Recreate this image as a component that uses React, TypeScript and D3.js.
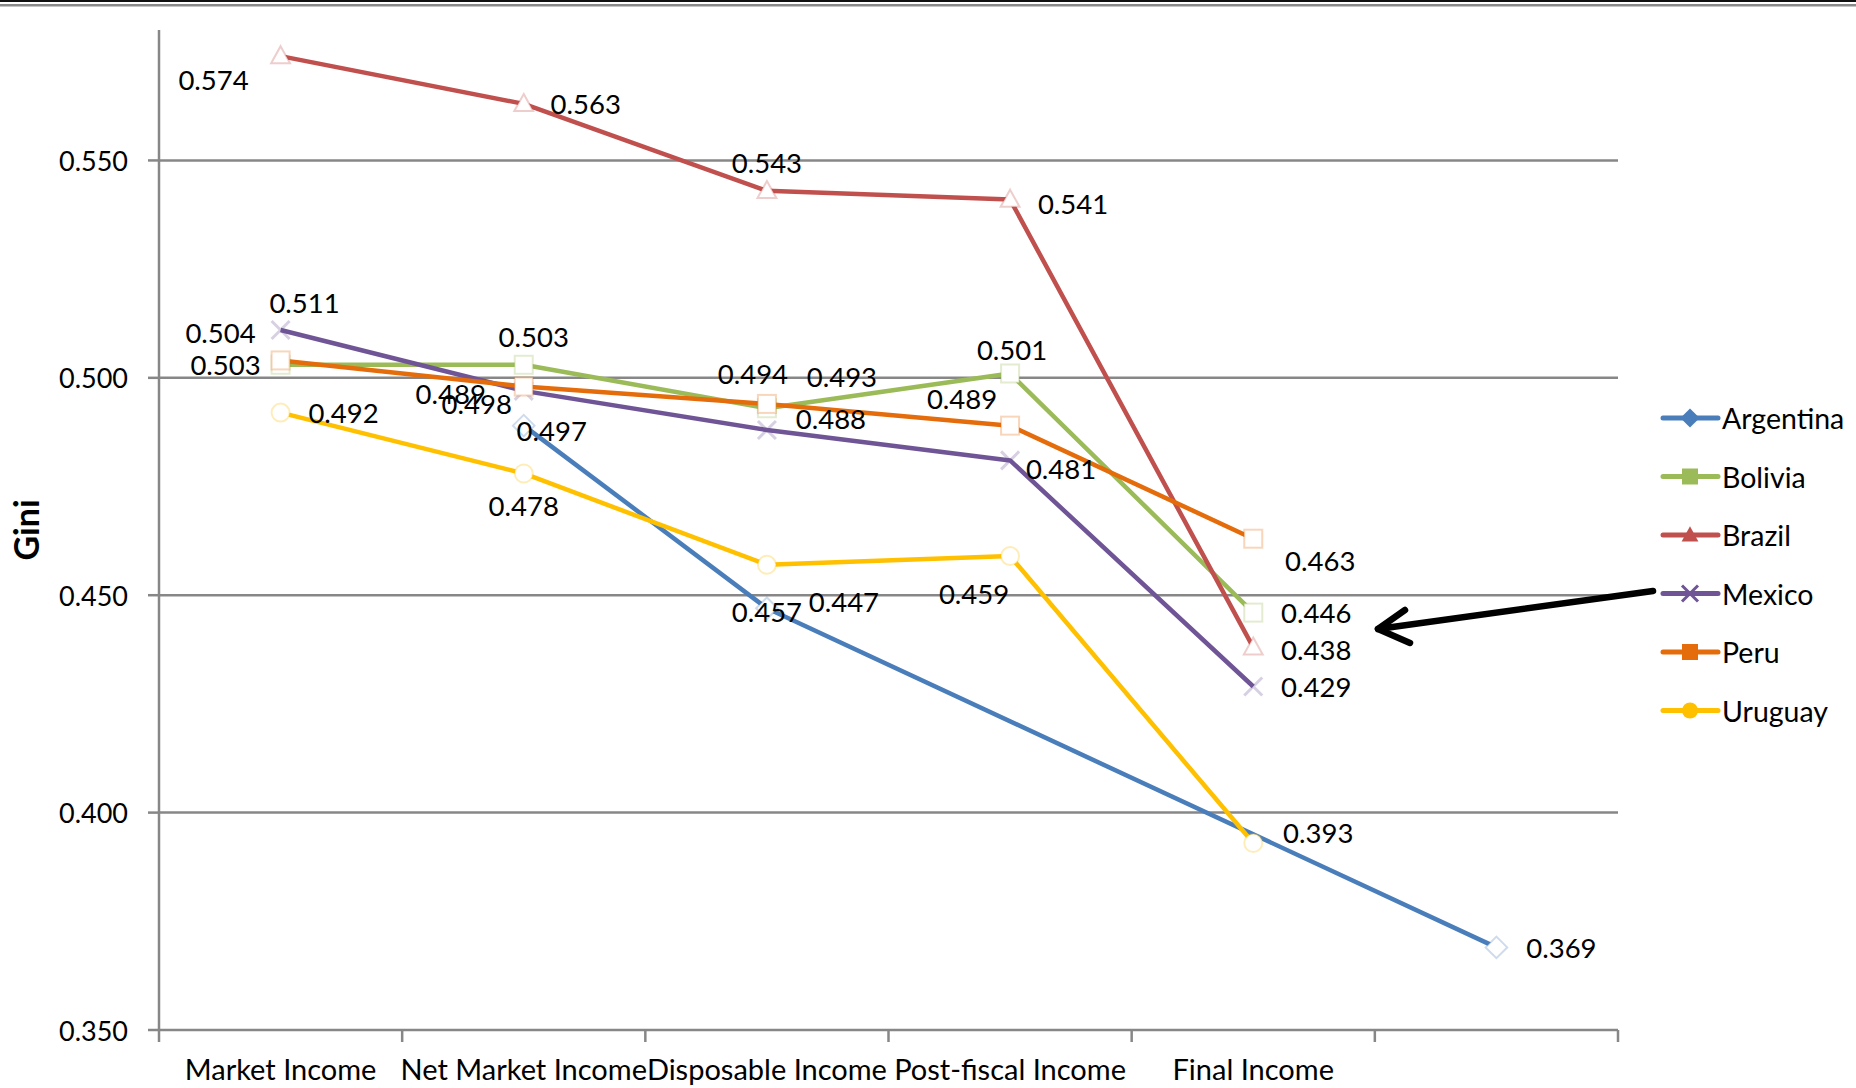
import React from "react"
import * as d3 from "d3"

// categories along the x axis (6th slot has no label)
const categories = ["Market Income", "Net Market Income", "Disposable Income", "Post-fiscal Income", "Final Income", ""]

// Gini values per country (null = no point)
const argentina = [null, 0.489, 0.447, null, null, 0.369]
const bolivia = [0.503, 0.503, 0.493, 0.501, 0.446, null]
const brazil = [0.574, 0.563, 0.543, 0.541, 0.438, null]
const mexico = [0.511, 0.497, 0.488, 0.481, 0.429, null]
const peru = [0.504, 0.498, 0.494, 0.489, 0.463, null]
const uruguay = [0.492, 0.478, 0.457, 0.459, 0.393, null]

const yTicks = [0.35, 0.4, 0.45, 0.5, 0.55]

const series = [
  { name: "Argentina", values: argentina, color: "#4a7ebb", marker: "diamond" },
  { name: "Bolivia", values: bolivia, color: "#9bbb59", marker: "square" },
  { name: "Brazil", values: brazil, color: "#c0504d", marker: "triangle" },
  { name: "Mexico", values: mexico, color: "#6f5596", marker: "x" },
  { name: "Peru", values: peru, color: "#e46c0a", marker: "square" },
  { name: "Uruguay", values: uruguay, color: "#ffc000", marker: "circle" },
]

// label offsets (label centre relative to the point)
const labelOffsets: Record<string, [number, number]> = {
  "Argentina|1": [-73, -32],
  "Argentina|2": [77, -7],
  "Argentina|5": [65, 0],
  "Bolivia|0": [-55, 0],
  "Bolivia|1": [10, -28],
  "Bolivia|2": [75, -32],
  "Bolivia|3": [2, -24],
  "Bolivia|4": [63, 0],
  "Brazil|0": [-67, 23],
  "Brazil|1": [62, 0],
  "Brazil|2": [0, -28],
  "Brazil|3": [63, 4],
  "Brazil|4": [63, 2],
  "Mexico|0": [24, -28],
  "Mexico|1": [28, 40],
  "Mexico|2": [64, -12],
  "Mexico|3": [51, 8],
  "Mexico|4": [63, 0],
  "Peru|0": [-60, -28],
  "Peru|1": [-47, 17],
  "Peru|2": [-14, -30],
  "Peru|3": [-48, -27],
  "Peru|4": [67, 22],
  "Uruguay|0": [63, 0],
  "Uruguay|1": [0, 32],
  "Uruguay|2": [0, 47],
  "Uruguay|3": [-36, 37],
  "Uruguay|4": [65, -11],
}

const FONT = "Lato, 'Open Sans', sans-serif"
const W = 1856
const H = 1088

const Marker = ({ type, x, y, size, fill, stroke, sw }) => {
  const s = size / 2
  if (type === "diamond")
    return <path d={`M${x},${y - s * 1.2}L${x + s * 1.2},${y}L${x},${y + s * 1.2}L${x - s * 1.2},${y}Z`} fill={fill} stroke={stroke} strokeWidth={sw} />
  if (type === "square") return <rect x={x - s} y={y - s} width={size} height={size} fill={fill} stroke={stroke} strokeWidth={sw} />
  if (type === "triangle")
    return <path d={`M${x},${y - s * 1.1}L${x + s * 1.05},${y + s * 0.8}L${x - s * 1.05},${y + s * 0.8}Z`} fill={fill} stroke={stroke} strokeWidth={sw} />
  if (type === "circle") return <circle cx={x} cy={y} r={s} fill={fill} stroke={stroke} strokeWidth={sw} />
  return (
    <path d={`M${x - s},${y - s}L${x + s},${y + s}M${x - s},${y + s}L${x + s},${y - s}`} fill="none" stroke={stroke} strokeWidth={sw + 1} />
  )
}

export default function App() {
  const left = 159
  const right = 1618
  const top = 30
  const bottom = 1030

  const x = d3
    .scaleBand()
    .domain(categories.map((_, i) => String(i)))
    .range([left, right])
    .padding(0)
  const cx = (i) => x(String(i)) + x.bandwidth() / 2
  const y = d3.scaleLinear().domain([0.35, 0.58]).range([bottom, top])

  const line = d3
    .line()
    .x((d) => cx(d[0]))
    .y((d) => y(d[1]))

  const boundaries = categories.map((_, i) => x(String(i))).concat([right])

  return (
    <div style={{ position: "absolute", left: 0, top: 0 }}>
      <svg width={W} height={H} style={{ display: "block", background: "#fff" }} fontFamily={FONT}>
        {/* top frame lines */}
        <rect x={0} y={0} width={W} height={2} fill="#111" />
        <rect x={0} y={4} width={W} height={2.5} fill="#8a8a8a" />

        {/* gridlines */}
        {yTicks.slice(1).map((t) => (
          <line key={t} x1={left} x2={right} y1={y(t)} y2={y(t)} stroke="#878787" strokeWidth={2.5} />
        ))}

        {/* y axis */}
        <line x1={left} x2={left} y1={top} y2={bottom} stroke="#878787" strokeWidth={2.5} />
        {yTicks.map((t) => (
          <g key={t}>
            <line x1={left - 11} x2={left} y1={y(t)} y2={y(t)} stroke="#878787" strokeWidth={2.5} />
            <text x={128} y={y(t)} textAnchor="end" dominantBaseline="central" fontSize={27} fill="#000">
              {d3.format(".3f")(t)}
            </text>
          </g>
        ))}

        {/* x axis */}
        <line x1={left} x2={right} y1={bottom} y2={bottom} stroke="#878787" strokeWidth={2.5} />
        {boundaries.map((b, i) => (
          <line key={i} x1={b} x2={b} y1={bottom} y2={bottom + 12} stroke="#878787" strokeWidth={2.5} />
        ))}
        {categories.map((c, i) => (
          <text key={i} x={cx(i)} y={1080} textAnchor="middle" fontSize={29} fill="#000">
            {c}
          </text>
        ))}

        {/* axis title */}
        <text transform="translate(39,530) rotate(-90)" textAnchor="middle" fontSize={34} fontWeight="bold" fill="#000">
          Gini
        </text>

        {/* series lines */}
        {series.map((s) => {
          const pts = s.values.map((v, i) => [i, v]).filter((d) => d[1] != null)
          return <path key={s.name} d={line(pts)} fill="none" stroke={s.color} strokeWidth={4.5} strokeLinejoin="round" />
        })}

        {/* markers */}
        {series.map((s) =>
          s.values.map((v, i) =>
            v == null ? null : (
              <Marker key={s.name + i} type={s.marker} x={cx(i)} y={y(v)} size={18} fill="#fff" stroke={d3.color(s.color).copy({ opacity: 0.28 }).toString()} sw={2} />
            )
          )
        )}

        {/* data labels */}
        {series.map((s) =>
          s.values.map((v, i) => {
            if (v == null) return null
            const off = labelOffsets[s.name + "|" + i] || [63, 0]
            return (
              <text key={s.name + "l" + i} x={cx(i) + off[0]} y={y(v) + off[1]} textAnchor="middle" dominantBaseline="central" fontSize={27.5} fill="#000">
                {d3.format(".3f")(v)}
              </text>
            )
          })
        )}

        {/* arrow */}
        <g stroke="#000" strokeWidth={6.5} strokeLinecap="round" strokeLinejoin="round" fill="none">
          <path d="M1653,591L1378,629" />
          <path d="M1405,610L1378,629L1410,643" />
        </g>

        {/* legend */}
        {series.map((s, i) => {
          const ly = 418 + i * 58.5
          return (
            <g key={s.name}>
              <line x1={1663} x2={1718} y1={ly} y2={ly} stroke={s.color} strokeWidth={5} strokeLinecap="round" />
              <Marker type={s.marker} x={1690} y={ly} size={16} fill={s.color} stroke={s.color} sw={s.marker === "x" ? 2 : 0} />
              <text x={1722} y={ly} dominantBaseline="central" fontSize={28.5} fill="#000">
                {s.name}
              </text>
            </g>
          )
        })}
      </svg>
    </div>
  )
}
